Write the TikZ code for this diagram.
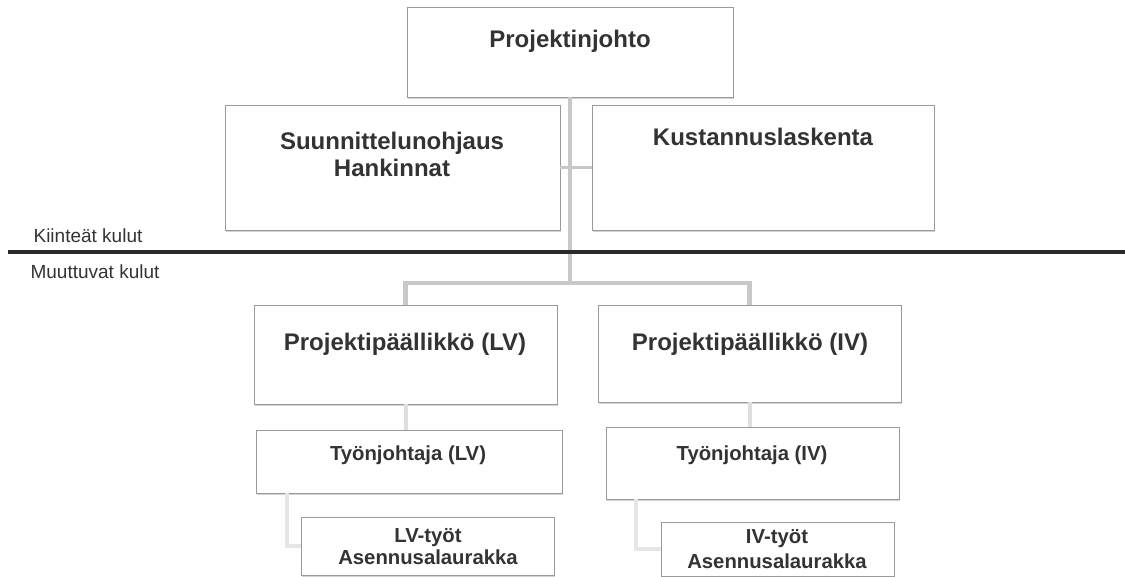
\documentclass[tikz,border=0pt]{standalone}
\usepackage{fontspec}
\setmainfont{Liberation Sans}
\usetikzlibrary{shadows}
\definecolor{txt}{HTML}{333333}
\definecolor{bord}{HTML}{9A9A9A}
\definecolor{connA}{HTML}{C8C8C8}
\definecolor{connB}{HTML}{DEDEDE}
\definecolor{connC}{HTML}{E6E6E6}
\definecolor{rule}{HTML}{2B2B2B}
\tikzset{
  box/.style={draw=bord, line width=1pt, fill=white, anchor=north west, inner sep=0pt, outer sep=0pt,
    drop shadow={shadow xshift=1.2pt, shadow yshift=-1.5pt, opacity=0.35}},
  bigtxt/.style={anchor=base, inner sep=0pt, text=txt, font=\bfseries\fontsize{24}{26}\selectfont},
  midtxt/.style={anchor=base, inner sep=0pt, text=txt, font=\bfseries\fontsize{20.3}{22}\selectfont},
  lbltxt/.style={anchor=base, inner sep=0pt, text=txt, font=\fontsize{19}{21}\selectfont},
  connup/.style={draw=connA, line width=4.5pt},
  connstub/.style={draw=connA, line width=3pt},
  connmid/.style={draw=connB, line width=4pt},
  connlow/.style={draw=connC, line width=4pt},
  divider/.style={draw=rule, line width=4pt}
}
\begin{document}
\begin{tikzpicture}[x=1pt,y=-1pt]
\useasboundingbox (0,0) rectangle (1125,576);
% boxes
\node[box, minimum width=326pt, minimum height=90pt] (pj) at (407,7) {};
\node[box, minimum width=335pt, minimum height=125pt] (sh) at (225,105) {};
\node[box, minimum width=342pt, minimum height=125pt] (kl) at (592,105) {};
\node[box, minimum width=303pt, minimum height=99pt] (ppl) at (254,305) {};
\node[box, minimum width=303pt, minimum height=97pt] (ppi) at (598,305) {};
\node[box, minimum width=306pt, minimum height=63pt] (tjl) at (256,430) {};
\node[box, minimum width=293pt, minimum height=72pt] (tji) at (606,427) {};
\node[box, minimum width=253pt, minimum height=58pt] (lvw) at (301,517) {};
\node[box, minimum width=233pt, minimum height=54pt] (ivw) at (661,522) {};
% helper coordinates
\coordinate (hub) at (570,283);
\coordinate (tjlx) at (287,493);
\coordinate (tjix) at (636,499);
\coordinate (divl) at (8,252);
\coordinate (divr) at (1125,252);
% connectors
\draw[connup] (pj.south) -- (hub);
\draw[connup] (ppl.north) |- (hub) -| (ppi.north);
\draw[connstub] (sh.east) -- (kl.west);
\draw[connmid] (ppl.south) -- (ppl.south |- tjl.north);
\draw[connmid] (ppi.south) -- (ppi.south |- tji.north);
\draw[connlow] (tjlx) |- (lvw.west);
\draw[connlow] (tjix) |- (ivw.west);
% divider
\draw[divider] (divl) -- (divr);
% texts
\node[bigtxt] (pjt) at (570,47) {Projektinjohto};
\node[bigtxt] (sht1) at (392,149) {Suunnittelunohjaus};
\node[bigtxt] (sht2) at (392,176) {Hankinnat};
\node[bigtxt] (klt) at (763,145) {Kustannuslaskenta};
\node[bigtxt] (pplt) at (405,350) {Projektipäällikkö (LV)};
\node[bigtxt] (ppit) at (750,350) {Projektipäällikkö (IV)};
\node[midtxt] (tjlt) at (408,460) {Työnjohtaja (LV)};
\node[midtxt] (tjit) at (752,460) {Työnjohtaja (IV)};
\node[midtxt] (lvt1) at (428,542) {LV-työt};
\node[midtxt] (lvt2) at (428,564) {Asennusalaurakka};
\node[midtxt] (ivt1) at (777,543) {IV-työt};
\node[midtxt] (ivt2) at (777,568) {Asennusalaurakka};
\node[lbltxt] (kk) at (88,242) {Kiinteät kulut};
\node[lbltxt] (mk) at (95,278) {Muuttuvat kulut};
\end{tikzpicture}
\end{document}
